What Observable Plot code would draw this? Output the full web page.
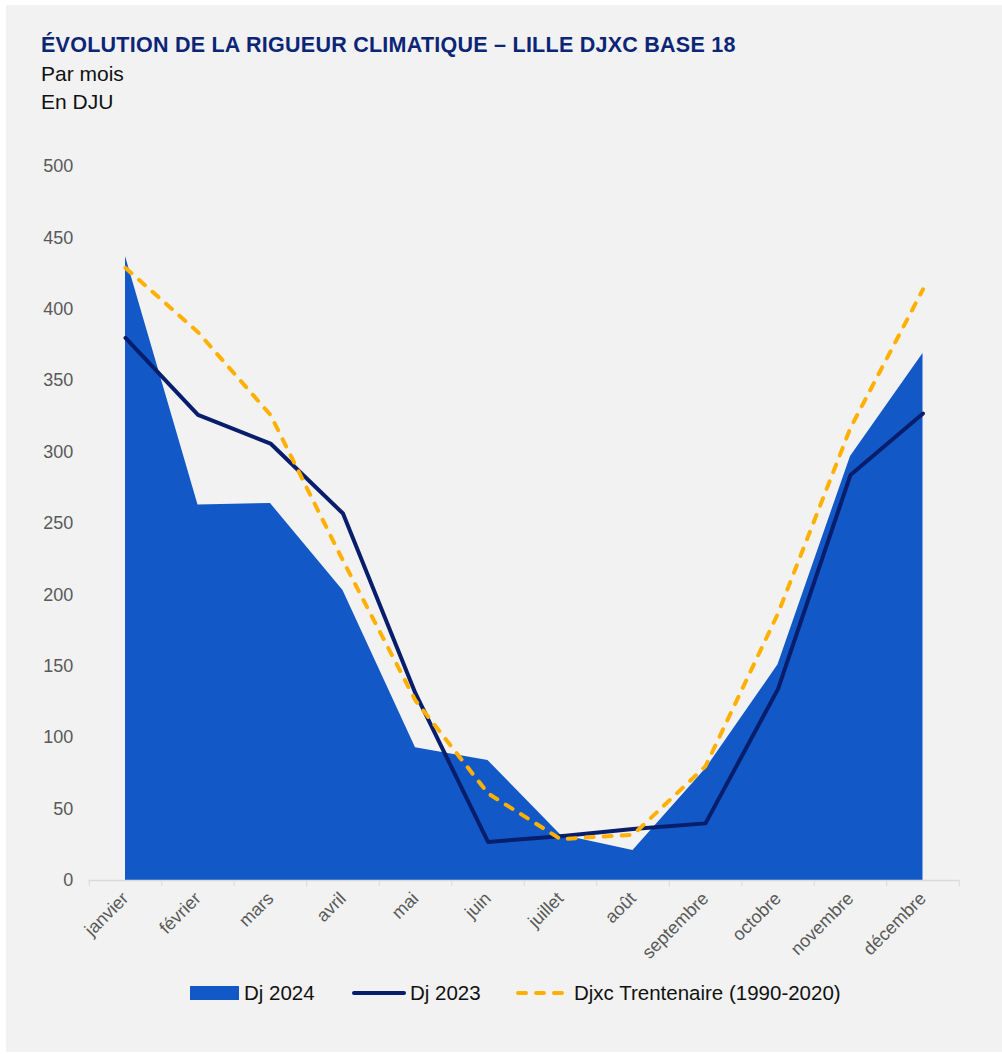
<!DOCTYPE html>
<html>
<head>
<meta charset="utf-8">
<script src="https://cdn.jsdelivr.net/npm/d3@7"></script>
<script src="https://cdn.jsdelivr.net/npm/@observablehq/plot@0.6"></script>
<style>
  html, body { margin: 0; padding: 0; background: #ffffff; }
  body { width: 1002px; height: 1054px; position: relative; overflow: hidden; font-family: "Liberation Sans", Arial, sans-serif; }
  #panel { position: absolute; left: 6px; top: 5px; width: 996px; height: 1047px; background: #f2f2f2; }
  .t { position: absolute; white-space: nowrap; }
  #title { left: 41px; top: 31px; font-size: 21.5px; letter-spacing: 0.25px; line-height: 28px; font-weight: bold; color: #0b2577; }
  #sub1 { left: 41px; top: 60px; font-size: 21px; line-height: 28px; color: #111; }
  #sub2 { left: 41px; top: 88px; font-size: 21px; line-height: 28px; color: #111; }
  #chart { position: absolute; left: 0; top: 140px; }
  .leg { position: absolute; top: 981px; height: 24px; display: flex; align-items: center; font-size: 20.5px; color: #111; white-space: nowrap; }
</style>
</head>
<body>
<div id="panel"></div>
<div class="t" id="title">ÉVOLUTION DE LA RIGUEUR CLIMATIQUE – LILLE DJXC BASE 18</div>
<div class="t" id="sub1">Par mois</div>
<div class="t" id="sub2">En DJU</div>
<div id="chart"></div>
<div id="legend"></div>
<script>
const months = ["janvier","février","mars","avril","mai","juin","juillet","août","septembre","octobre","novembre","décembre"];
const dj2024 = [437, 263, 264, 203, 93, 84, 32, 21, 78, 151, 297, 369];
const dj2023 = [380, 326, 306, 257, 131, 27, 31, 36, 40, 134, 284, 327];
const trentenaire = [429, 384, 326, 224, 126, 61, 29, 32, 80, 187, 317, 414];
const yTicks = [0, 50, 100, 150, 200, 250, 300, 350, 400, 450, 500];
const seriesNames = ["Dj 2024", "Dj 2023", "Djxc Trentenaire (1990-2020)"];

const colArea = "#1259c7";
const colNavy = "#081e6c";
const colGold = "#ffb000";

const rows = months.map((m, i) => ({i, m, a: dj2024[i], b: dj2023[i], c: trentenaire[i]}));
const centers = months.map((m, i) => i);
const bounds = d3.range(months.length + 1).map(k => k - 0.5);

const chart = Plot.plot({
  width: 1002,
  height: 820,
  marginLeft: 88.75,
  marginRight: 43.25,
  marginTop: 26,
  marginBottom: 80,
  style: {background: "transparent", fontFamily: "'Liberation Sans', Arial, sans-serif", overflow: "visible"},
  x: {type: "linear", domain: [-0.5, months.length - 0.5]},
  y: {domain: [0, 500]},
  marks: [
    Plot.areaY(rows, {x: "i", y: "a", fill: colArea}),
    Plot.ruleY([0], {stroke: "#d9d9d9", strokeWidth: 1.5}),
    Plot.line(rows, {x: "i", y: "b", stroke: colNavy, strokeWidth: 4, strokeLinejoin: "round", strokeLinecap: "round"}),
    Plot.line(rows, {x: "i", y: "c", stroke: colGold, strokeWidth: 4, strokeDasharray: "8,10", strokeLinecap: "round", strokeLinejoin: "round"}),
    Plot.axisY({ticks: yTicks, tickSize: 0, tickPadding: 16, fontSize: 18, color: "#595959", label: null}),
    Plot.axisX({ticks: bounds, tickSize: 6, tickFormat: () => "", stroke: "#d9d9d9", label: null}),
    Plot.axisX({ticks: centers, tickSize: 0, tickPadding: 15, tickRotate: -45, tickFormat: i => months[i], fontSize: 18, color: "#595959", label: null})
  ]
});
document.getElementById("chart").appendChild(chart);

// Legend
const legend = document.getElementById("legend");
const items = [
  {name: seriesNames[0], sw: 190, tx: 244, kind: "area"},
  {name: seriesNames[1], sw: 352, tx: 410, kind: "line"},
  {name: seriesNames[2], sw: 516, tx: 574, kind: "dash"}
];
for (const it of items) {
  const s = document.createElement("div");
  s.className = "leg";
  s.style.left = it.sw + "px";
  let svg;
  if (it.kind === "area") {
    svg = `<svg width="49" height="14"><rect x="0" y="0" width="49" height="14" fill="${colArea}"/></svg>`;
  } else if (it.kind === "line") {
    svg = `<svg width="54" height="8"><line x1="2" y1="4" x2="52" y2="4" stroke="${colNavy}" stroke-width="4" stroke-linecap="round"/></svg>`;
  } else {
    svg = `<svg width="54" height="8"><line x1="2" y1="4" x2="52" y2="4" stroke="${colGold}" stroke-width="4" stroke-linecap="round" stroke-dasharray="8,10"/></svg>`;
  }
  s.innerHTML = svg;
  legend.appendChild(s);
  const t = document.createElement("div");
  t.className = "leg";
  t.style.left = it.tx + "px";
  t.textContent = it.name;
  legend.appendChild(t);
}
</script>
</body>
</html>
